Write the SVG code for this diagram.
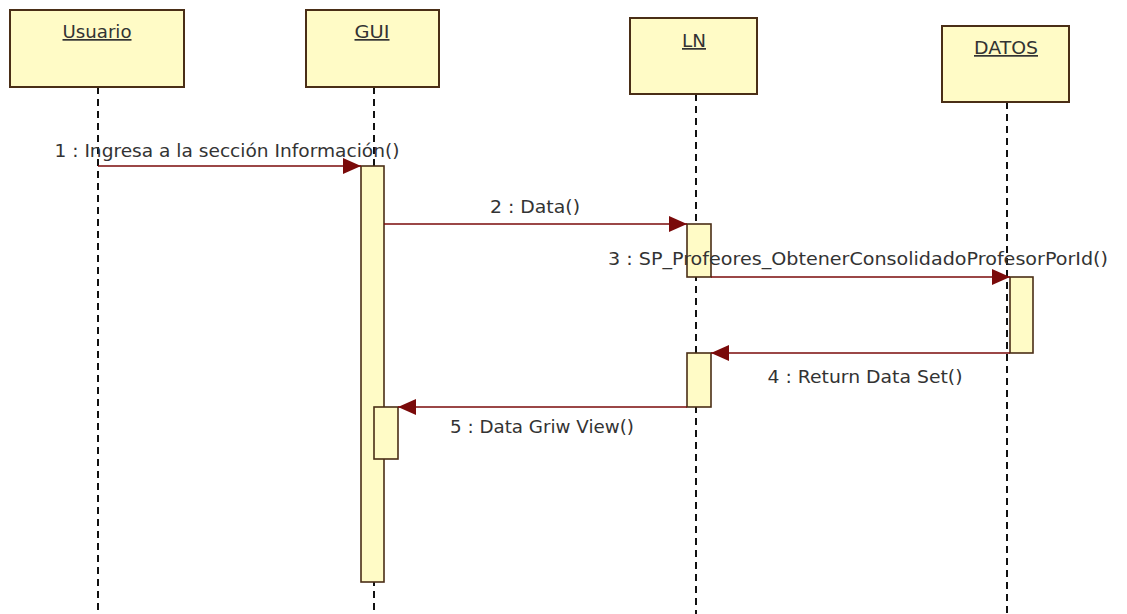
<svg xmlns="http://www.w3.org/2000/svg" width="1127" height="614" viewBox="0 0 1127 614">
<style>
.box{fill:#fffbc6;stroke:#4a2e16;stroke-width:2}
.act{fill:#fffbc6;stroke:#4a2e16;stroke-width:1.6}
.life{stroke:#111;stroke-width:2;stroke-dasharray:7 5;fill:none}
.msg{stroke:#7a0a0a;stroke-width:1.6;fill:none;marker-end:url(#ah)}
.t{font-family:"DejaVu Sans","Liberation Sans",sans-serif;font-size:17px;fill:#333;text-anchor:middle}
.u{text-decoration:underline}
</style>
<defs>
<marker id="ah" viewBox="0 0 18 16" refX="18" refY="8" markerWidth="18" markerHeight="16" markerUnits="userSpaceOnUse" orient="auto">
<path d="M0,0 L18,8 L0,16 Z" fill="#7a0a0a"/>
</marker>
</defs>
<rect width="1127" height="614" fill="#ffffff"/>
<g id="lifelines">
<line class="life" x1="98" y1="87" x2="98" y2="614"/>
<line class="life" x1="374" y1="87" x2="374" y2="614"/>
<line class="life" x1="696" y1="94" x2="696" y2="614"/>
<line class="life" x1="1007" y1="102" x2="1007" y2="614"/>
</g>
<g id="usuario">
<rect class="box" x="10" y="10" width="174" height="77"/>
<text class="t u" x="97" y="38" textLength="69" lengthAdjust="spacingAndGlyphs">Usuario</text>
</g>
<g id="gui">
<rect class="box" x="306" y="10" width="133" height="77"/>
<text class="t u" x="372" y="38" textLength="35" lengthAdjust="spacingAndGlyphs">GUI</text>
<rect class="act" x="361" y="166" width="23" height="416"/>
<rect class="act" x="374" y="407" width="24" height="52"/>
</g>
<g id="ln">
<rect class="box" x="630" y="18" width="127" height="76"/>
<text class="t u" x="694" y="47" textLength="24" lengthAdjust="spacingAndGlyphs">LN</text>
<rect class="act" x="687" y="224" width="24" height="53"/>
<rect class="act" x="687" y="353" width="24" height="54"/>
</g>
<g id="datos">
<rect class="box" x="942" y="26" width="127" height="76"/>
<text class="t u" x="1006" y="54" textLength="64" lengthAdjust="spacingAndGlyphs">DATOS</text>
<rect class="act" x="1010" y="277" width="23" height="76"/>
</g>
<g id="connectors">
<line class="msg" x1="98" y1="166" x2="361" y2="166"/>
<line class="msg" x1="384" y1="224" x2="687" y2="224"/>
<line class="msg" x1="711" y1="277" x2="1010" y2="277"/>
<line class="msg" x1="1010" y1="353" x2="711" y2="353"/>
<line class="msg" x1="687" y1="407" x2="398" y2="407"/>
</g>
<g id="labels">
<text class="t" x="227" y="157" textLength="345" lengthAdjust="spacingAndGlyphs">1 : Ingresa a la sección Información()</text>
<text class="t" x="535" y="213" textLength="90" lengthAdjust="spacingAndGlyphs">2 : Data()</text>
<text class="t" x="858" y="265" textLength="500" lengthAdjust="spacingAndGlyphs">3 : SP_Profeores_ObtenerConsolidadoProfesorPorId()</text>
<text class="t" x="865" y="383" textLength="195" lengthAdjust="spacingAndGlyphs">4 : Return Data Set()</text>
<text class="t" x="542" y="433" textLength="184" lengthAdjust="spacingAndGlyphs">5 : Data Griw View()</text>
</g>
</svg>
